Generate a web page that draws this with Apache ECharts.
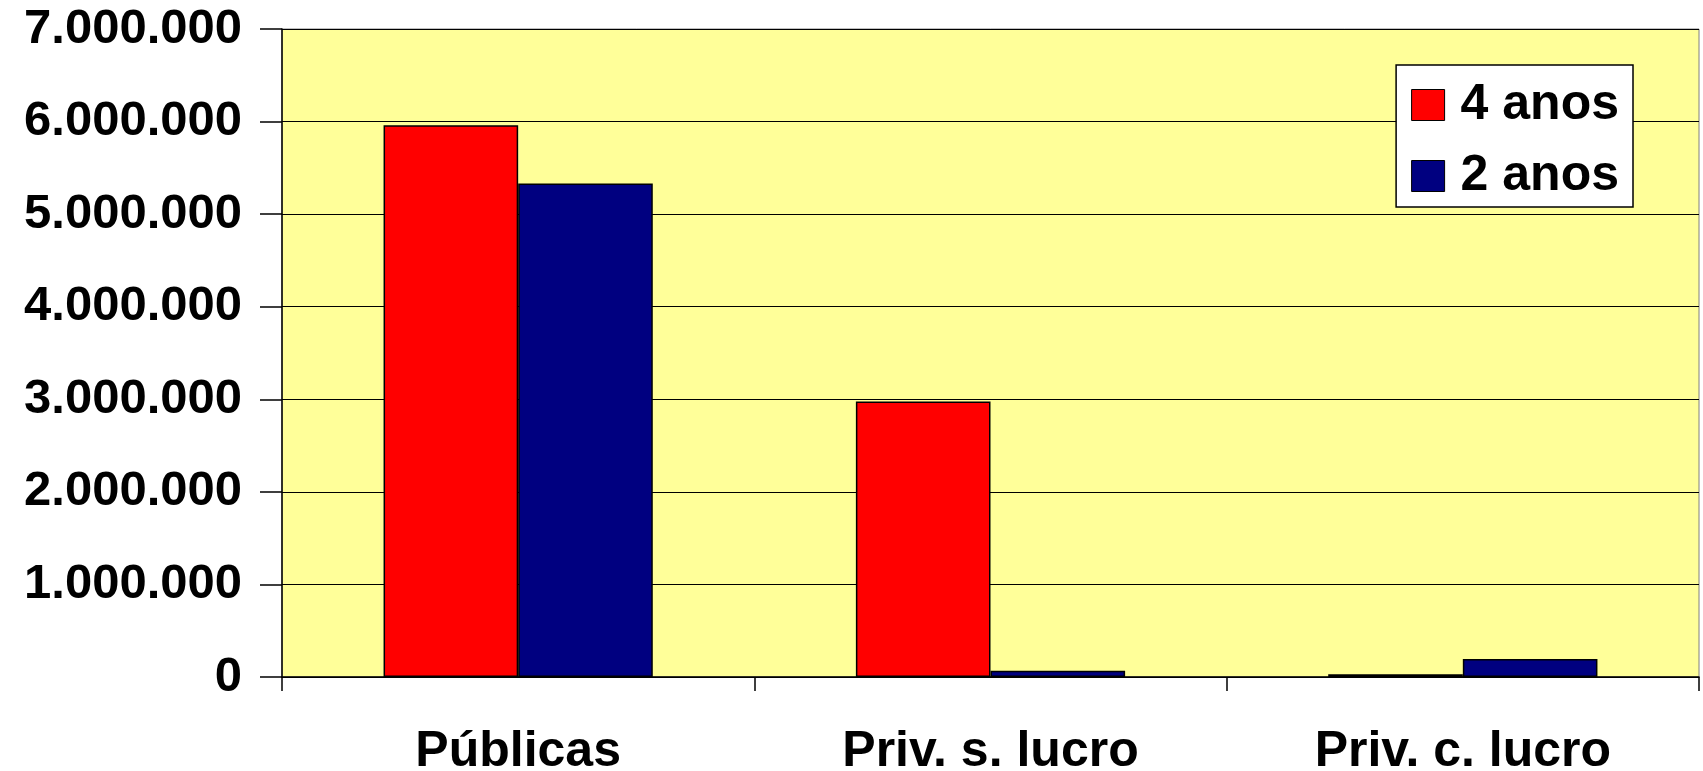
<!DOCTYPE html>
<html>
<head>
<meta charset="utf-8">
<script src="https://cdn.jsdelivr.net/npm/echarts@6/dist/echarts.min.js"></script>
<style>
  html, body { margin: 0; padding: 0; background: #fff; }
  #chart { width: 1703px; height: 771px; }
</style>
</head>
<body>
<div id="chart"></div>
<script>
// categorias e valores
var categorias = ['Públicas', 'Priv. s. lucro', 'Priv. c. lucro'];
var quatroAnos = [5960000, 2975000, 30000];
var doisAnos = [5330000, 68000, 195000];
var nomesSeries = ['4 anos', '2 anos'];

var chart = echarts.init(document.getElementById('chart'));

// separador de milhares com ponto
function fmt(v) {
  return String(v).replace(/\B(?=(\d{3})+(?!\d))/g, '.');
}

var option = {
  animation: false,
  textStyle: { fontFamily: 'Liberation Sans' },
  grid: {
    left: 282,
    right: 4,
    top: 29,
    bottom: 94,
    containLabel: false,
    outerBoundsMode: 'none',
    show: true,
    backgroundColor: '#FFFF99',
    borderColor: '#808080',
    borderWidth: 1
  },
  legend: {
    right: 70,
    top: 65,
    orient: 'vertical',
    backgroundColor: '#fff',
    borderColor: '#000',
    borderWidth: 1.5,
    borderRadius: 0,
    padding: [15, 14, 6, 15],
    itemGap: 21,
    itemWidth: 33,
    itemHeight: 31,
    icon: 'rect',
    itemStyle: { borderColor: '#000', borderWidth: 1 },
    textStyle: {
      fontSize: 50,
      fontWeight: 'bold',
      color: '#000',
      padding: [0, 0, 0, 11]
    },
    data: nomesSeries
  },
  xAxis: {
    type: 'category',
    data: categorias,
    axisLine: { lineStyle: { color: '#000', width: 1.5 } },
    axisTick: { show: true, length: 14, lineStyle: { color: '#000', width: 1.5 } },
    axisLabel: { fontSize: 50, fontWeight: 'bold', color: '#000', margin: 50 }
  },
  yAxis: {
    type: 'value',
    min: 0,
    max: 7000000,
    interval: 1000000,
    axisLine: { show: true, lineStyle: { color: '#000', width: 1.5 } },
    axisTick: { show: true, length: 22, lineStyle: { color: '#000', width: 1.5 } },
    splitLine: { lineStyle: { color: '#000', width: 1.2 } },
    axisLabel: {
      fontSize: 49,
      fontWeight: 'bold',
      color: '#000',
      margin: 40,
      formatter: fmt
    }
  },
  series: [
    {
      name: nomesSeries[0],
      type: 'bar',
      data: quatroAnos,
      barGap: '0%',
      barCategoryGap: '43%',
      itemStyle: { color: '#FF0000', borderColor: '#000', borderWidth: 1.5 }
    },
    {
      name: nomesSeries[1],
      type: 'bar',
      data: doisAnos,
      itemStyle: { color: '#000080', borderColor: '#000', borderWidth: 1.5 }
    }
  ]
};

chart.setOption(option);
</script>
</body>
</html>
